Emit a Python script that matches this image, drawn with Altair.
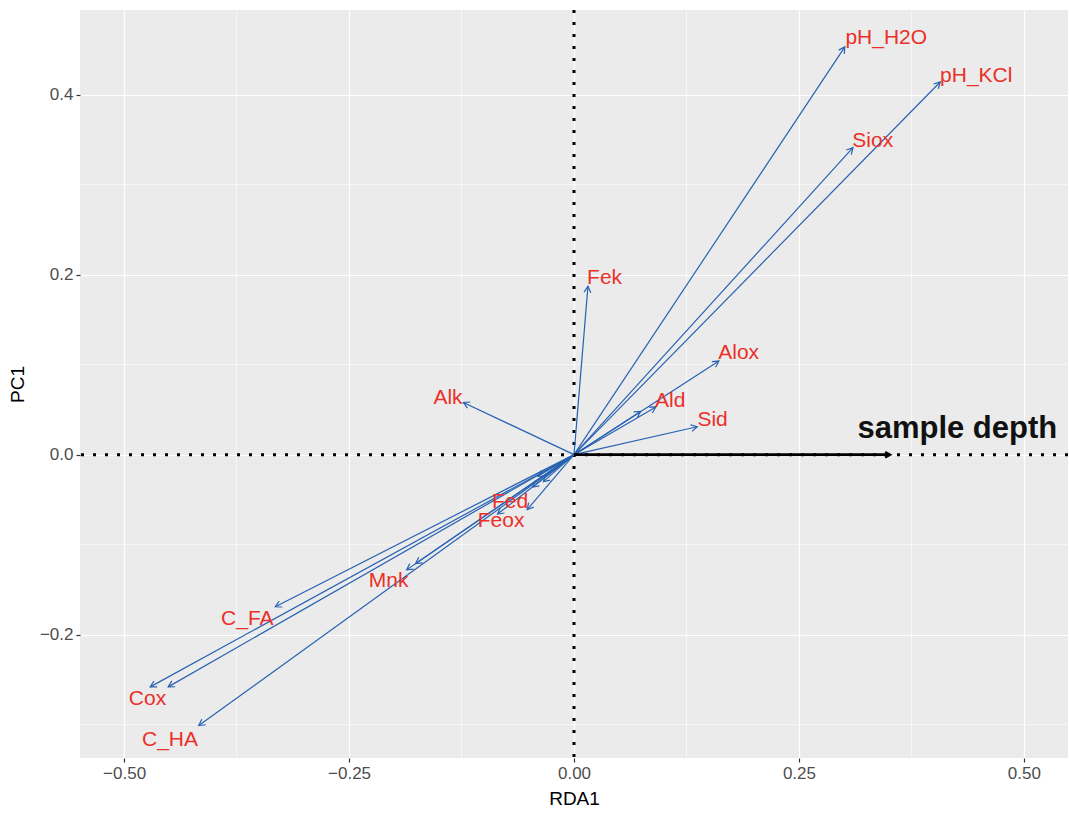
import altair as alt
import pandas as pd

# Arrow tips (RDA1, PC1)
arrow_names = ["pH_H2O", "pH_KCl", "Siox", "Fek", "Alox", "Ald", "Ald_b", "Sid", "Alk",
               "Fed", "Feox", "c1", "c2", "c3", "Mnk", "Mnk_b", "C_FA", "Cox", "Cox_b", "C_HA"]
arrow_x = [0.301, 0.407, 0.310, 0.0155, 0.161, 0.091, 0.074, 0.137, -0.123,
           -0.052, -0.085, -0.040, -0.046, -0.034, -0.186, -0.176, -0.332, -0.471, -0.451, -0.417]
arrow_y = [0.453, 0.414, 0.341, 0.187, 0.104, 0.053, 0.048, 0.031, 0.058,
           -0.061, -0.066, -0.024, -0.036, -0.030, -0.128, -0.121, -0.169, -0.258, -0.258, -0.301]

# Label positions
label_text = ["pH_H2O", "pH_KCl", "Siox", "Fek", "Alox", "Ald", "Sid", "Alk",
              "Fed", "Feox", "Mnk", "C_FA", "Cox", "C_HA"]
label_x = [0.347, 0.447, 0.332, 0.034, 0.183, 0.107, 0.154, -0.140,
           -0.071, -0.081, -0.206, -0.363, -0.474, -0.449]
label_y = [0.463, 0.421, 0.349, 0.196, 0.113, 0.060, 0.039, 0.063,
           -0.053, -0.074, -0.140, -0.183, -0.272, -0.317]

# Constrained axis (sample depth)
depth_name = ["sample depth"]
depth_x = [0.351]
depth_y = [0.0]
depth_label_x = [0.426]
depth_label_y = [0.028]

x_ticks = [-0.5, -0.25, 0.0, 0.25, 0.5]
y_ticks = [-0.2, 0.0, 0.2, 0.4]
x_minor = [-0.375, -0.125, 0.125, 0.375]
y_minor = [-0.3, -0.1, 0.1, 0.3]
x_domain = [-0.549, 0.549]
y_domain = [-0.337, 0.494]

FONT = "Liberation Sans"
BLUE = "#2862b2"
RED = "#ea3028"

arrows = pd.DataFrame({"name": arrow_names, "x": arrow_x, "y": arrow_y})
labels = pd.DataFrame({"name": label_text, "x": label_x, "y": label_y})
depth = pd.DataFrame({"name": depth_name, "x": depth_x, "y": depth_y})
depth_lab = pd.DataFrame({"name": depth_name, "x": depth_label_x, "y": depth_label_y})

xs = alt.Scale(domain=x_domain, nice=False, zero=False)
ys = alt.Scale(domain=y_domain, nice=False, zero=False)

x_axis = alt.Axis(values=x_ticks, format=".2f", title="RDA1", grid=True)
y_axis = alt.Axis(values=y_ticks, format=".1f", title="PC1", grid=True)

chev = "M-0.55,1L0,0L0.55,1"

base_x = alt.X("x:Q", scale=xs, axis=x_axis)
base_y = alt.Y("y:Q", scale=ys, axis=y_axis)

minor_x = alt.Chart(pd.DataFrame({"x": x_minor})).mark_rule(color="white", strokeWidth=0.6).encode(
    x=alt.X("x:Q", scale=xs, axis=x_axis))
minor_y = alt.Chart(pd.DataFrame({"y": y_minor})).mark_rule(color="white", strokeWidth=0.6).encode(
    y=alt.Y("y:Q", scale=ys, axis=y_axis))

zero_df = pd.DataFrame({"v": [0.0]})
zero_v = alt.Chart(zero_df).mark_rule(color="black", strokeWidth=3, strokeDash=[3, 9]).encode(
    x=alt.X("v:Q", scale=xs))
zero_h = alt.Chart(zero_df).mark_rule(color="black", strokeWidth=3, strokeDash=[3, 9]).encode(
    y=alt.Y("v:Q", scale=ys))

def shafts(df, color, width):
    return alt.Chart(df).transform_calculate(x0="0", y0="0").mark_rule(
        color=color, strokeWidth=width).encode(
        x=alt.X("x0:Q", scale=xs), y=alt.Y("y0:Q", scale=ys),
        x2="x:Q", y2="y:Q")

def heads(df, color, width, size):
    return alt.Chart(df).transform_calculate(
        ang="(atan2(datum.x, datum.y) * 180 / PI + 360) % 360").mark_point(
        shape=chev, filled=False, color=color, strokeWidth=width, size=size, opacity=1).encode(
        x=alt.X("x:Q", scale=xs), y=alt.Y("y:Q", scale=ys),
        angle=alt.Angle("ang:Q", scale=None))

arrow_lines = shafts(arrows, BLUE, 1.2)
arrow_heads = heads(arrows, BLUE, 1.2, 150)
depth_line = shafts(depth, "black", 2.6)
depth_head = heads(depth, "black", 2.6, 90)

label_layer = alt.Chart(labels).mark_text(
    font=FONT, fontSize=21, color=RED, align="center", baseline="middle").encode(
    x=alt.X("x:Q", scale=xs), y=alt.Y("y:Q", scale=ys), text="name:N")
depth_text = alt.Chart(depth_lab).mark_text(
    font=FONT, fontSize=31, fontWeight="bold", color="#111111", align="center", baseline="middle").encode(
    x=alt.X("x:Q", scale=xs), y=alt.Y("y:Q", scale=ys), text="name:N")

axes_layer = alt.Chart(arrows).mark_point(opacity=0).encode(x=base_x, y=base_y)

chart = alt.layer(
    axes_layer, minor_x, minor_y, zero_v, zero_h,
    arrow_lines, arrow_heads, depth_line, depth_head,
    label_layer, depth_text
).properties(
    width=988, height=748,
    padding={"left": 80, "top": 10, "right": 1, "bottom": 58},
    autosize="none", background="white"
).configure_view(
    fill="#EBEBEB", stroke=None
).configure_axis(
    gridColor="white", gridWidth=1.2, domain=False,
    tickColor="#333333", tickSize=4, tickWidth=1.2,
    labelFont=FONT, labelFontSize=17, labelColor="#4d4d4d", labelPadding=3,
    titleFont=FONT, titleFontSize=19, titleColor="black", titleFontWeight="normal"
).configure_axisX(titlePadding=8).configure_axisY(titlePadding=12)

chart.save("out.html", embed_options={"renderer": "svg", "actions": False})
